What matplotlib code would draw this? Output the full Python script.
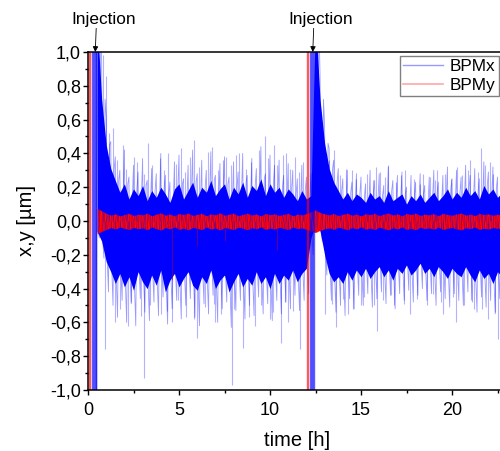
import numpy as np
import matplotlib
matplotlib.use('Agg')
import matplotlib.pyplot as plt
from matplotlib.lines import Line2D
from matplotlib.ticker import MultipleLocator, FuncFormatter

plt.rcParams['font.family'] = ['Liberation Sans', 'DejaVu Sans']

# sampling grid of the envelope readings [h]
t = np.arange(0.5, 22.76, 0.25)

# BPMx: dense core and outer envelope [um]
x_core_hi = [1.20, 0.72, 0.45, 0.31, 0.24, 0.17, 0.22, 0.13, 0.19, 0.15,
             0.21, 0.12, 0.18, 0.14, 0.20, 0.16, 0.11, 0.19, 0.22, 0.13,
             0.18, 0.23, 0.14, 0.20, 0.17, 0.24, 0.15, 0.19, 0.22, 0.13,
             0.20, 0.16, 0.23, 0.14, 0.21, 0.18, 0.25, 0.15, 0.22, 0.17,
             0.20, 0.14, 0.19, 0.16, 0.12, 0.18, 0.13, 0.15, 1.20, 0.72,
             0.46, 0.31, 0.23, 0.18, 0.13, 0.17, 0.12, 0.16, 0.14, 0.11,
             0.17, 0.13, 0.15, 0.11, 0.18, 0.12, 0.14, 0.16, 0.10, 0.15,
             0.12, 0.16, 0.11, 0.14, 0.17, 0.12, 0.15, 0.19, 0.13, 0.17,
             0.14, 0.20, 0.15, 0.18, 0.13, 0.21, 0.16, 0.19, 0.14, 0.17]
x_core_lo = [-0.06, -0.12, -0.24, -0.30, -0.37, -0.31, -0.39, -0.33, -0.41, -0.30,
             -0.36, -0.40, -0.32, -0.38, -0.29, -0.42, -0.35, -0.31, -0.39, -0.34,
             -0.30, -0.38, -0.41, -0.33, -0.37, -0.29, -0.40, -0.35, -0.32, -0.42,
             -0.36, -0.31, -0.39, -0.34, -0.38, -0.30, -0.37, -0.33, -0.40, -0.31,
             -0.37, -0.32, -0.35, -0.29, -0.36, -0.31, -0.28, -0.10, -0.02, -0.06,
             -0.20, -0.31, -0.36, -0.33, -0.37, -0.30, -0.35, -0.29, -0.33, -0.28,
             -0.34, -0.30, -0.27, -0.33, -0.29, -0.35, -0.28, -0.31, -0.26, -0.32,
             -0.29, -0.25, -0.31, -0.28, -0.33, -0.27, -0.30, -0.34, -0.28, -0.31,
             -0.33, -0.27, -0.32, -0.36, -0.29, -0.34, -0.31, -0.37, -0.30, -0.33]
x_out_hi = [1.20, 0.95, 0.62, 0.47, 0.38, 0.30, 0.42, 0.26, 0.33, 0.29,
            0.37, 0.24, 0.31, 0.28, 0.40, 0.27, 0.23, 0.35, 0.39, 0.25,
            0.33, 0.42, 0.28, 0.36, 0.30, 0.41, 0.27, 0.34, 0.38, 0.26,
            0.35, 0.29, 0.40, 0.27, 0.37, 0.31, 0.44, 0.28, 0.39, 0.33,
            0.36, 0.27, 0.34, 0.30, 0.25, 0.33, 0.26, 0.28, 1.20, 0.86,
            0.57, 0.43, 0.36, 0.31, 0.25, 0.30, 0.23, 0.28, 0.26, 0.22,
            0.30, 0.24, 0.28, 0.21, 0.32, 0.24, 0.27, 0.29, 0.20, 0.27,
            0.23, 0.28, 0.21, 0.26, 0.30, 0.23, 0.27, 0.32, 0.25, 0.30,
            0.26, 0.33, 0.27, 0.31, 0.25, 0.35, 0.29, 0.32, 0.26, 0.30]
x_out_lo = [-0.10, -0.22, -0.42, -0.50, -0.57, -0.47, -0.60, -0.49, -0.62, -0.46,
            -0.54, -0.59, -0.48, -0.56, -0.45, -0.61, -0.52, -0.47, -0.58, -0.50,
            -0.46, -0.57, -0.62, -0.49, -0.55, -0.44, -0.60, -0.52, -0.48, -0.63,
            -0.53, -0.47, -0.58, -0.50, -0.56, -0.45, -0.55, -0.49, -0.59, -0.47,
            -0.55, -0.48, -0.52, -0.44, -0.53, -0.47, -0.43, -0.20, -0.05, -0.12,
            -0.32, -0.47, -0.54, -0.50, -0.56, -0.46, -0.52, -0.44, -0.50, -0.43,
            -0.51, -0.46, -0.42, -0.49, -0.44, -0.52, -0.43, -0.47, -0.41, -0.48,
            -0.44, -0.40, -0.47, -0.43, -0.50, -0.42, -0.46, -0.51, -0.43, -0.47,
            -0.50, -0.42, -0.48, -0.54, -0.45, -0.51, -0.47, -0.55, -0.46, -0.50]

# BPMx single excursions (time [h], value [um])
x_spike_t = [0.8, 1.0, 1.35, 1.9, 2.5, 3.3, 4.4, 5.1, 5.8, 6.8, 7.6, 8.3,
             9.7, 10.2, 10.9, 11.4, 11.8, 13.5, 14.5, 15.8, 16.5, 17.4,
             18.4, 19.2, 20.3, 21.0, 21.6, 22.1,
             0.95, 1.5, 2.2, 3.1, 4.0, 4.6, 5.4, 6.0, 7.0, 7.9, 8.5, 9.2,
             10.0, 10.6, 11.0, 11.65, 13.0, 13.6, 14.3, 15.0, 15.9, 16.8,
             17.7, 18.6, 19.5, 20.2, 21.2, 22.0, 22.5,
             1.15, 1.62, 2.08, 2.71, 3.05, 3.52, 3.93, 4.18, 4.83, 5.33,
             5.62, 6.12, 6.58, 7.14, 7.41, 7.83, 8.12, 8.66, 8.97, 9.38,
             9.87, 10.38, 10.69, 11.12, 11.58, 13.23, 13.87, 14.16, 14.72,
             15.31, 15.64, 16.07, 16.32, 16.93, 17.22, 17.91, 18.23, 18.79,
             19.06, 19.63, 19.94, 20.57, 20.86, 21.41, 21.83, 22.28,
             1.78, 2.38, 2.93, 3.42, 4.33, 4.96, 5.81, 6.41, 6.93, 7.33,
             8.02, 8.83, 9.53, 10.17, 10.82, 11.28, 13.42, 14.03, 14.58,
             15.19, 15.71, 16.21, 16.66, 17.38, 18.09, 18.97, 19.37, 20.04,
             20.68, 21.07, 21.66, 22.39]
x_spike_v = [0.98, 0.86, 0.55, 0.45, 0.38, 0.46, 0.40, 0.43, 0.48, 0.44, 0.38, 0.40,
             0.50, 0.45, 0.40, 0.38, 0.35, 0.42, 0.30, 0.32, 0.33, 0.30,
             0.28, 0.30, 0.32, 0.36, 0.43, 0.35,
             -0.76, -0.60, -0.62, -0.93, -0.55, -0.60, -0.57, -0.69, -0.60, -0.97, -0.75, -0.62,
             -0.58, -0.72, -0.60, -0.76, -0.55, -0.63, -0.55, -0.50, -0.65, -0.50,
             -0.55, -0.50, -0.55, -0.60, -0.52, -0.58, -0.70,
             0.52, 0.36, 0.31, 0.35, 0.28, 0.33, 0.37, 0.30, 0.34, 0.29,
             0.38, 0.32, 0.41, 0.30, 0.36, 0.33, 0.39, 0.31, 0.35, 0.42,
             0.37, 0.33, 0.39, 0.31, 0.29, 0.36, 0.27, 0.31, 0.25,
             0.28, 0.24, 0.29, 0.26, 0.23, 0.27, 0.25, 0.22, 0.26,
             0.24, 0.28, 0.25, 0.27, 0.30, 0.29, 0.33, 0.28,
             -0.52, -0.48, -0.56, -0.50, -0.53, -0.47, -0.58, -0.51, -0.49, -0.55,
             -0.52, -0.57, -0.50, -0.54, -0.48, -0.53, -0.49, -0.46, -0.52,
             -0.45, -0.50, -0.47, -0.44, -0.49, -0.46, -0.43, -0.48, -0.45,
             -0.50, -0.47, -0.52, -0.54]

# BPMy envelope [um]
y_hi = [0.075, 0.060, 0.045, 0.035, 0.042, 0.030, 0.038, 0.045, 0.032, 0.040,
        0.036, 0.046, 0.031, 0.040, 0.048, 0.034, 0.041, 0.030, 0.044, 0.037,
        0.047, 0.033, 0.039, 0.045, 0.031, 0.042, 0.036, 0.048, 0.034, 0.040,
        0.045, 0.032, 0.038, 0.046, 0.035, 0.041, 0.030, 0.044, 0.037, 0.042,
        0.033, 0.039, 0.045, 0.031, 0.040, 0.036, 0.043, 0.055, 0.065, 0.050,
        0.042, 0.036, 0.044, 0.032, 0.039, 0.046, 0.034, 0.041, 0.030, 0.043,
        0.037, 0.045, 0.032, 0.040, 0.047, 0.035, 0.042, 0.031, 0.044, 0.038,
        0.046, 0.033, 0.040, 0.036, 0.043, 0.031, 0.045, 0.038, 0.034, 0.041,
        0.047, 0.035, 0.040, 0.032, 0.044, 0.038, 0.042, 0.034, 0.039, 0.036]
y_lo = [-0.075, -0.062, -0.050, -0.040, -0.047, -0.036, -0.044, -0.051, -0.038, -0.046,
        -0.041, -0.052, -0.036, -0.045, -0.054, -0.039, -0.047, -0.035, -0.050, -0.042,
        -0.053, -0.038, -0.044, -0.051, -0.036, -0.048, -0.041, -0.054, -0.039, -0.045,
        -0.051, -0.037, -0.043, -0.052, -0.040, -0.047, -0.035, -0.050, -0.042, -0.048,
        -0.038, -0.044, -0.051, -0.036, -0.045, -0.041, -0.049, -0.060, -0.068, -0.055,
        -0.047, -0.041, -0.050, -0.037, -0.044, -0.052, -0.039, -0.047, -0.035, -0.049,
        -0.042, -0.051, -0.037, -0.045, -0.053, -0.040, -0.048, -0.036, -0.050, -0.043,
        -0.052, -0.038, -0.045, -0.041, -0.049, -0.036, -0.051, -0.043, -0.039, -0.047,
        -0.053, -0.040, -0.045, -0.037, -0.050, -0.043, -0.048, -0.039, -0.044, -0.041]
y_spike_t = [4.6, 6.0, 7.5, 10.4]
y_spike_v = [-0.35, -0.15, -0.12, -0.17]

# injections: beam jumps out of range
x_jump_t = [0.2, 0.3, 0.34, 0.38, 0.42, 0.46, 12.2, 12.26, 12.32, 12.38, 12.44]
y_jump_t = [0.03, 0.1, 12.02, 12.07]
inj_t = [0.4, 12.35]

fig = plt.figure(figsize=(5, 4.51), dpi=100)
ax = fig.add_axes([0.176, 0.1353, 23 * 18.2 / 500, 0.7494])

def zigzag(hi, lo, core_hi=None, core_lo=None):
    # trace through the readings of every bin: top, bottom (and inner edges)
    if core_hi is None:
        seq = [(0.0, hi), (0.125, lo)]
    else:
        seq = [(0.0, hi), (0.0625, core_lo), (0.125, lo), (0.1875, core_hi)]
    k = len(seq)
    zt = np.empty(k * len(t))
    zv = np.empty(k * len(t))
    for j, (dt, vals) in enumerate(seq):
        zt[j::k] = t + dt
        zv[j::k] = vals
    return zt, zv

# BPMx
ax.fill_between(t, x_core_lo, x_core_hi, color='blue', lw=0)
zt, zv = zigzag(x_out_hi, x_out_lo, x_core_hi, x_core_lo)
ax.plot(zt, zv, color='blue', alpha=0.4, lw=0.6)
ax.vlines(x_spike_t, 0, x_spike_v, color='blue', alpha=0.3, lw=0.8)
ax.vlines(x_jump_t, -1.5, 1.5, color='blue', alpha=0.6, lw=1.0)

# BPMy
ax.fill_between(t, y_lo, y_hi, color='red', lw=0)
zt, zv = zigzag(y_hi, y_lo)
ax.plot(zt, zv, color='#ff4040', alpha=0.3, lw=0.4)
ax.vlines(y_spike_t, 0, y_spike_v, color='#b00040', alpha=0.5, lw=0.8)
ax.vlines(y_jump_t, -1.5, 1.5, color='red', alpha=0.6, lw=1.0)

ax.set_xlim(0, 23)
ax.set_ylim(-1.0, 1.0)
ax.xaxis.set_major_locator(MultipleLocator(5))
ax.xaxis.set_minor_locator(MultipleLocator(2.5))
ax.yaxis.set_major_locator(MultipleLocator(0.2))
ax.yaxis.set_minor_locator(MultipleLocator(0.1))
ax.yaxis.set_major_formatter(FuncFormatter(lambda v, p: f'{v:.1f}'.replace('.', ',').replace('-0,0', '0,0')))
ax.tick_params(which='major', direction='out', length=3.5, width=1, labelsize=13, pad=1.5)
ax.tick_params(which='minor', direction='out', length=2, width=1)
ax.tick_params(axis='x', which='major', pad=5)
ax.spines['right'].set_visible(False)
for s in ['left', 'bottom', 'top']:
    ax.spines[s].set_linewidth(1.1)

ax.set_xlabel('time [h]', fontsize=14.5, labelpad=9)
ax.set_ylabel('x,y [µm]', fontsize=14.5, labelpad=10)

for ti in inj_t:
    ax.annotate('', xy=(ti, 1.0), xytext=(ti + 0.05, 1.14),
                arrowprops=dict(arrowstyle='-|>', color='black', lw=0.6,
                                mutation_scale=8, shrinkA=0, shrinkB=0),
                annotation_clip=False)
    ax.text(ti + 0.45, 1.19, 'Injection', fontsize=12.4, ha='center', va='center')

handles = [Line2D([], [], color='blue', alpha=0.4, lw=1),
           Line2D([], [], color='red', alpha=0.35, lw=1.2)]
ax.legend(handles, ['BPMx', 'BPMy'], loc='upper right', fontsize=12.4,
          bbox_to_anchor=(0.998, 0.876), bbox_transform=fig.transFigure,
          fancybox=False, edgecolor='#808080', framealpha=1,
          handlelength=2.3, borderpad=0.2, labelspacing=0.2, handletextpad=0.4,
          borderaxespad=0)

fig.savefig('out.png', dpi=100)
